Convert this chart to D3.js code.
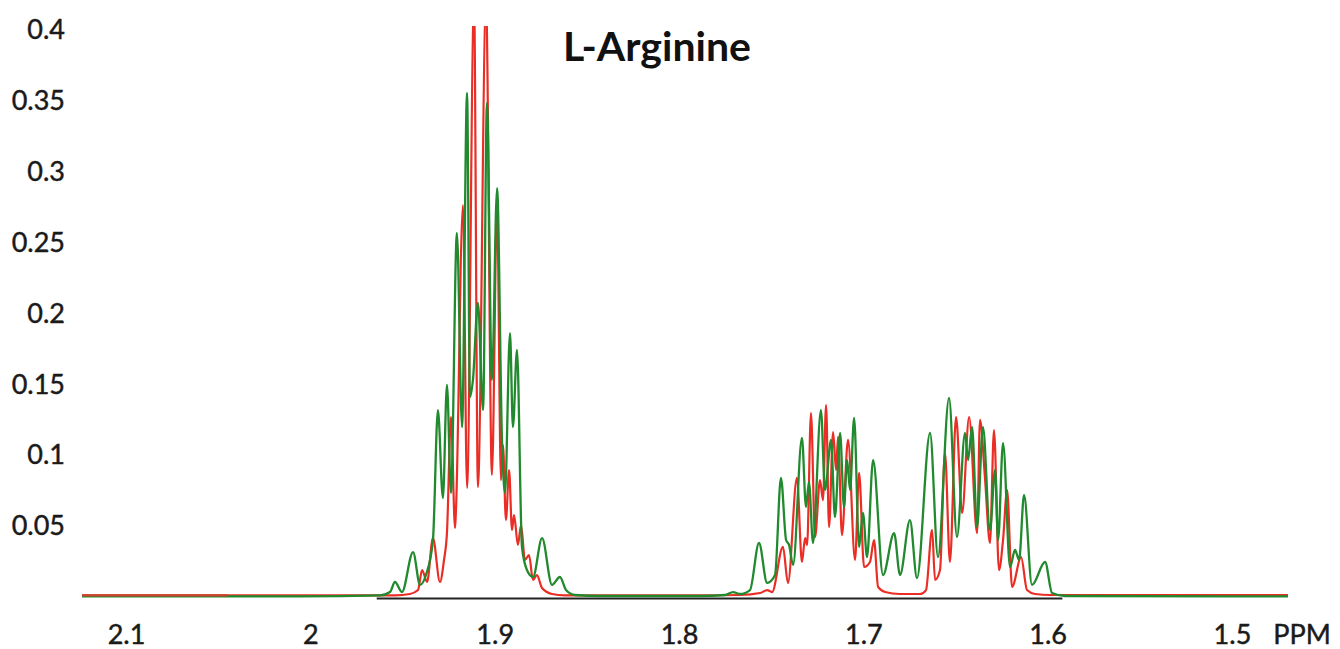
<!DOCTYPE html>
<html>
<head>
<meta charset="utf-8">
<script src="https://cdn.jsdelivr.net/npm/d3@7"></script>
<style>
	body { margin: 0; background: #fff; }
	svg { display: block; }
</style>
</head>
<body>
<div id="chart"></div>
<script>
// Axis ticks
const xTicks = [2.1, 2.0, 1.9, 1.8, 1.7, 1.6, 1.5];
const yTicks = [0.05, 0.1, 0.15, 0.2, 0.25, 0.3, 0.35, 0.4];
const title = "L-Arginine";
const unitLabel = "PPM";

// Spectra as [ppm, intensity] vertices
const redSpectrum = [
	[2.1239, 0.0011], [1.9541, 0.0011], [1.9460, 0.0021], [1.9416, 0.0049], [1.9394, 0.0190],
	[1.9367, 0.0106], [1.9335, 0.0416], [1.9297, 0.0106], [1.9275, 0.0261], [1.9259, 0.0451],
	[1.9237, 0.1270], [1.9215, 0.0487], [1.9210, 0.0614], [1.9172, 0.2765], [1.9150, 0.0769],
	[1.9112, 0.4200], [1.9091, 0.0776], [1.9047, 0.4200], [1.9015, 0.0861], [1.8987, 0.2751],
	[1.8966, 0.0825], [1.8955, 0.1072], [1.8939, 0.0543], [1.8922, 0.0896], [1.8906, 0.0473],
	[1.8895, 0.0578], [1.8874, 0.0367], [1.8857, 0.0508], [1.8836, 0.0261], [1.8814, 0.0296],
	[1.8792, 0.0120], [1.8771, 0.0155], [1.8743, 0.0063], [1.8689, 0.0021], [1.8619, 0.0011],
	[1.7886, 0.0011], [1.7669, 0.0014], [1.7560, 0.0028], [1.7522, 0.0049], [1.7495, 0.0035],
	[1.7436, 0.0353], [1.7409, 0.0099], [1.7360, 0.0840], [1.7333, 0.0247], [1.7316, 0.0416],
	[1.7305, 0.0367], [1.7284, 0.1298], [1.7262, 0.0423], [1.7235, 0.0825], [1.7219, 0.0684],
	[1.7202, 0.1354], [1.7186, 0.0494], [1.7164, 0.1164], [1.7148, 0.0896], [1.7137, 0.1129],
	[1.7116, 0.0437], [1.7083, 0.1108], [1.7045, 0.0261], [1.7023, 0.0875], [1.6996, 0.0212],
	[1.6964, 0.0247], [1.6942, 0.0402], [1.6920, 0.0071], [1.6882, 0.0035], [1.6801, 0.0021],
	[1.6692, 0.0021], [1.6660, 0.0049], [1.6627, 0.0473], [1.6611, 0.0120], [1.6584, 0.0190],
	[1.6557, 0.1016], [1.6530, 0.0247], [1.6497, 0.1270], [1.6464, 0.0593], [1.6426, 0.1270],
	[1.6383, 0.0451], [1.6367, 0.1249], [1.6340, 0.0840], [1.6313, 0.0381], [1.6291, 0.1178],
	[1.6264, 0.0190], [1.6242, 0.0402], [1.6220, 0.0755], [1.6193, 0.0071], [1.6144, 0.0282],
	[1.6112, 0.0049], [1.6068, 0.0021], [1.5987, 0.0014], [1.4696, 0.0014]
];

const greenSpectrum = [
	[2.1239, 0.0004], [2.0056, 0.0004], [1.9622, 0.0011], [1.9568, 0.0035], [1.9541, 0.0106],
	[1.9503, 0.0035], [1.9443, 0.0317], [1.9405, 0.0085], [1.9373, 0.0155], [1.9335, 0.0402],
	[1.9308, 0.1319], [1.9281, 0.0698], [1.9259, 0.1496], [1.9237, 0.0734], [1.9205, 0.2568],
	[1.9177, 0.1199], [1.9150, 0.3556], [1.9134, 0.1411], [1.9118, 0.1531], [1.9091, 0.2074],
	[1.9063, 0.1319], [1.9042, 0.3485], [1.9015, 0.1531], [1.8987, 0.2885], [1.8960, 0.1086],
	[1.8944, 0.0734], [1.8917, 0.1862], [1.8901, 0.1199], [1.8879, 0.1743], [1.8852, 0.0353],
	[1.8825, 0.0190], [1.8792, 0.0141], [1.8743, 0.0416], [1.8689, 0.0085], [1.8646, 0.0141],
	[1.8613, 0.0049], [1.8564, 0.0014], [1.8429, 0.0007], [1.7886, 0.0007], [1.7750, 0.0014],
	[1.7707, 0.0035], [1.7669, 0.0021], [1.7615, 0.0049], [1.7566, 0.0381], [1.7522, 0.0099],
	[1.7479, 0.0155], [1.7447, 0.0840], [1.7419, 0.0402], [1.7403, 0.0367], [1.7381, 0.0226],
	[1.7333, 0.1122], [1.7311, 0.0635], [1.7295, 0.0811], [1.7273, 0.0381], [1.7230, 0.1319],
	[1.7208, 0.0755], [1.7175, 0.1108], [1.7154, 0.0564], [1.7126, 0.1157], [1.7105, 0.0635],
	[1.7088, 0.0966], [1.7072, 0.0755], [1.7050, 0.1263], [1.7023, 0.0353], [1.7002, 0.0593],
	[1.6980, 0.0282], [1.6947, 0.0966], [1.6893, 0.0155], [1.6833, 0.0451], [1.6801, 0.0155],
	[1.6747, 0.0543], [1.6709, 0.0134], [1.6638, 0.1157], [1.6595, 0.0282], [1.6535, 0.1404],
	[1.6492, 0.0423], [1.6448, 0.1157], [1.6432, 0.0966], [1.6410, 0.1199], [1.6383, 0.0494],
	[1.6351, 0.1199], [1.6313, 0.0473], [1.6285, 0.0896], [1.6269, 0.0402], [1.6242, 0.1086],
	[1.6204, 0.0212], [1.6177, 0.0332], [1.6155, 0.0261], [1.6128, 0.0720], [1.6085, 0.0085],
	[1.6014, 0.0247], [1.5976, 0.0028], [1.5906, 0.0007], [1.4696, 0.0004]
];

// Short red stretch that lies on top of the green at the far left
const redLeftTail = [[2.1239, 0.0011], [2.0450, 0.0011]];
// Stretch of the zero line that shows as black
const zeroLineSpan = [1.964, 1.592];

const width = 1340, height = 649;
const margin = { top: 30, right: 52, bottom: 52, left: 82 };
const labelFont = "Lato, 'Open Sans', sans-serif";

const svg = d3.select("#chart").append("svg")
	.attr("width", width).attr("height", height);

const scaleX = d3.scaleLinear()
	.domain([2.1239, 1.4696])
	.range([margin.left, width - margin.right]);
const scaleY = d3.scaleLinear()
	.domain([0, 0.4])
	.range([height - margin.bottom, margin.top]);

svg.append("clipPath").attr("id", "plot-clip")
	.append("rect")
	.attr("x", margin.left - 2).attr("y", margin.top - 4)
	.attr("width", width - margin.left - margin.right + 4)
	.attr("height", height - margin.top - margin.bottom + 8);

const plot = svg.append("g").attr("clip-path", "url(#plot-clip)");

// black zero line
plot.append("line")
	.attr("x1", scaleX(zeroLineSpan[0])).attr("x2", scaleX(zeroLineSpan[1]))
	.attr("y1", scaleY(0) + 1.5).attr("y2", scaleY(0) + 1.5)
	.attr("stroke", "#222").attr("stroke-width", 2.2);

const line = d3.line()
	.x((d) => scaleX(d[0]))
	.y((d) => scaleY(d[1]))
	.curve(d3.curveMonotoneX);

plot.append("path").datum(redSpectrum)
	.attr("d", line)
	.attr("fill", "none").attr("stroke", "#ea2e25")
	.attr("stroke-width", 2.2).attr("stroke-linejoin", "round");

plot.append("path").datum(greenSpectrum)
	.attr("d", line)
	.attr("fill", "none").attr("stroke", "#218a2e")
	.attr("stroke-width", 2.3).attr("stroke-linejoin", "round");

plot.append("path").datum(redLeftTail)
	.attr("d", line)
	.attr("fill", "none").attr("stroke", "#c8442c")
	.attr("stroke-width", 2.2);

// Axes (labels only)
const axisX = svg.append("g")
	.attr("transform", `translate(0, ${height - margin.bottom})`)
	.call(d3.axisBottom(scaleX).tickValues(xTicks).tickSize(0).tickPadding(28)
		.tickFormat((d) => String(+d.toFixed(1))));
axisX.select(".domain").remove();

svg.append("text")
	.attr("x", scaleX(1.5) + 70).attr("y", height - margin.bottom + 28)
	.attr("dy", "0.71em").attr("text-anchor", "middle")
	.text(unitLabel)
	.classed("lbl", true);

const axisY = svg.append("g")
	.attr("transform", `translate(65, 0)`)
	.call(d3.axisLeft(scaleY).tickValues(yTicks).tickSize(0).tickPadding(0)
		.tickFormat((d) => String(+d.toFixed(2))));
axisY.select(".domain").remove();

svg.selectAll(".tick text, text.lbl")
	.attr("font-family", labelFont)
	.attr("font-size", 27).attr("fill", "#1a1a1a")
	.attr("stroke", "#1a1a1a").attr("stroke-width", 0.45);

// Title
svg.append("text")
	.attr("x", 657).attr("y", 61)
	.attr("text-anchor", "middle")
	.attr("font-family", labelFont)
	.attr("font-weight", "bold").attr("font-size", 41)
	.attr("fill", "#111")
	.text(title);
</script>
</body>
</html>
